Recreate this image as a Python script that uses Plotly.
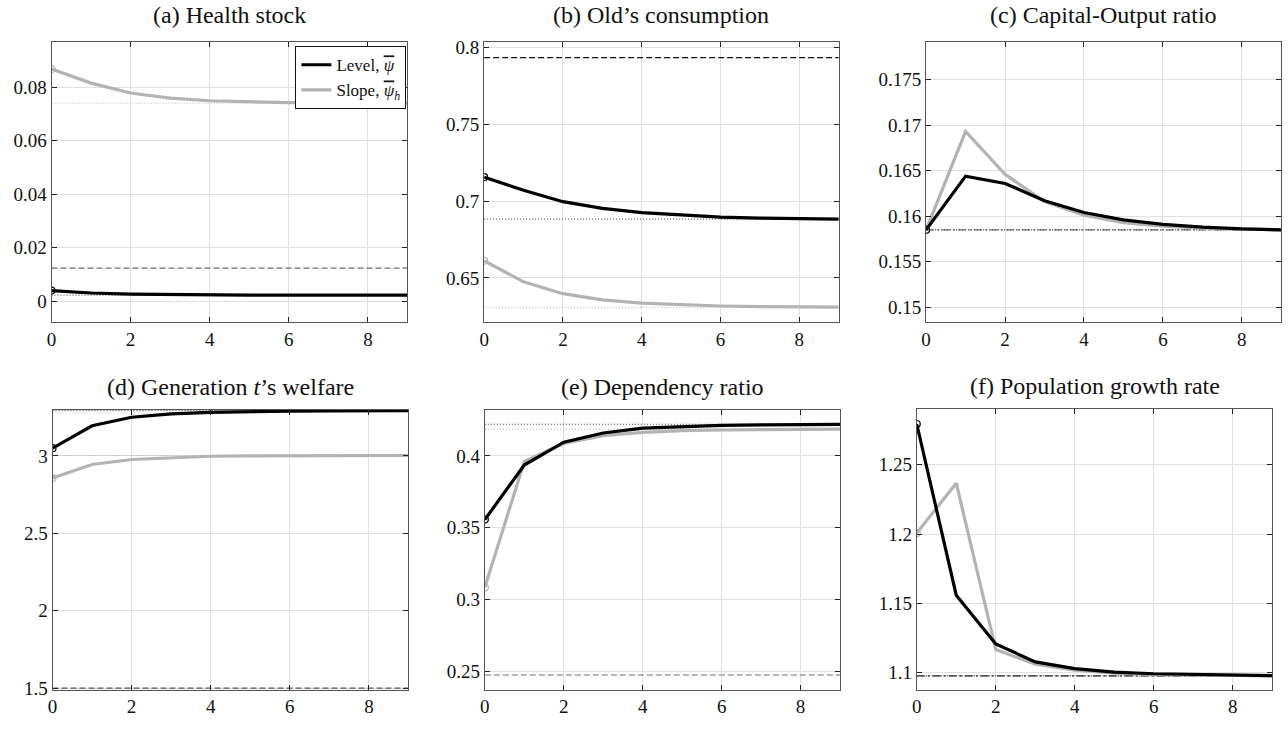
import plotly.graph_objects as go

periods = [0, 1, 2, 3, 4, 5, 6, 7, 8, 9]

# (a) Health stock
a_level = [0.0039, 0.0030, 0.0026, 0.0024, 0.0023, 0.0022, 0.0022, 0.0022, 0.0022, 0.0022]
a_slope = [0.0869, 0.0816, 0.0779, 0.0760, 0.0750, 0.0746, 0.0743, 0.0742, 0.0742, 0.0742]
a_init, a_ss_level, a_ss_slope = 0.0123, 0.0022, 0.0741

# (b) Old's consumption
b_level = [0.7155, 0.7070, 0.6996, 0.6953, 0.6925, 0.6908, 0.6896, 0.6889, 0.6885, 0.6883]
b_slope = [0.6612, 0.6475, 0.6398, 0.6358, 0.6337, 0.6325, 0.6318, 0.6314, 0.6312, 0.6311]
b_init, b_ss_level, b_ss_slope = 0.7932, 0.6883, 0.6310

# (c) Capital-Output ratio
c_level = [0.1585, 0.1644, 0.1636, 0.1617, 0.1604, 0.1596, 0.1591, 0.1588, 0.1586, 0.1585]
c_slope = [0.1585, 0.1693, 0.1646, 0.1616, 0.1601, 0.1593, 0.1589, 0.1587, 0.1586, 0.1585]
c_init, c_ss_level, c_ss_slope = 0.1585, 0.1585, 0.1585

# (d) Generation t's welfare
d_level = [3.050, 3.195, 3.250, 3.272, 3.282, 3.287, 3.290, 3.291, 3.292, 3.292]
d_slope = [2.857, 2.945, 2.977, 2.990, 2.998, 3.001, 3.002, 3.003, 3.003, 3.003]
d_init, d_ss_level, d_ss_slope = 1.500, 3.293, 3.003

# (e) Dependency ratio
e_level = [0.3557, 0.3936, 0.4095, 0.4159, 0.4193, 0.4205, 0.4212, 0.4216, 0.4218, 0.4219]
e_slope = [0.3086, 0.3961, 0.4086, 0.4141, 0.4164, 0.4175, 0.4180, 0.4183, 0.4185, 0.4186]
e_init, e_ss_level, e_ss_slope = 0.2477, 0.4220, 0.4186

# (f) Population growth rate
f_level = [1.2793, 1.1559, 1.1207, 1.1078, 1.1030, 1.1005, 1.0993, 1.0987, 1.0983, 1.0980]
f_slope = [1.2007, 1.2366, 1.1167, 1.1061, 1.1019, 1.0998, 1.0988, 1.0983, 1.0980, 1.0978]
f_init, f_ss_level, f_ss_slope = 1.0977, 1.0977, 1.0977

titles = ["(a) Health stock", "(b) Old\u2019s consumption", "(c) Capital-Output ratio",
          "(d) Generation <i>t</i>\u2019s welfare", "(e) Dependency ratio", "(f) Population growth rate"]
legend_names = ["Level, <i><span style=\"text-decoration:overline\">\u03c8</span></i>",
                "Slope, <i><span style=\"text-decoration:overline\">\u03c8</span><sub>h</sub></i>"]

y_ticks = [
    [0, 0.02, 0.04, 0.06, 0.08],
    [0.65, 0.7, 0.75, 0.8],
    [0.15, 0.155, 0.16, 0.165, 0.17, 0.175],
    [1.5, 2, 2.5, 3],
    [0.25, 0.3, 0.35, 0.4],
    [1.1, 1.15, 1.2, 1.25],
]
y_ticktext = [
    ["0", "0.02", "0.04", "0.06", "0.08"],
    ["0.65", "0.7", "0.75", "0.8"],
    ["0.15", "0.155", "0.16", "0.165", "0.17", "0.175"],
    ["1.5", "2", "2.5", "3"],
    ["0.25", "0.3", "0.35", "0.4"],
    ["1.1", "1.15", "1.2", "1.25"],
]
y_ranges = [[-0.0078, 0.0969], [0.6215, 0.8032], [0.1484, 0.1791],
            [1.49, 3.296], [0.2375, 0.4318], [1.0878, 1.29]]
x_ticks = [0, 2, 4, 6, 8]

W, H = 1288, 734
# panel boxes in pixels: (left, right, top, bottom)
boxes = [(46.7, 404, 38, 323), (481, 837, 38, 323), (924.7, 1281.3, 38, 323),
         (47.7, 405, 413, 698), (481.7, 838.3, 413, 698), (915.3, 1272.3, 412, 698)]

panels = [
    (a_level, a_slope, a_init, a_ss_level, a_ss_slope, "dash", "#6e6e6e"),
    (b_level, b_slope, b_init, b_ss_level, b_ss_slope, "dash", "#111111"),
    (c_level, c_slope, c_init, c_ss_level, c_ss_slope, "dashdot", "#6e6e6e"),
    (d_level, d_slope, d_init, d_ss_level, d_ss_slope, "dash", "#555555"),
    (e_level, e_slope, e_init, e_ss_level, e_ss_slope, "dash", "#6e6e6e"),
    (f_level, f_slope, f_init, f_ss_level, f_ss_slope, "dashdot", "#111111"),
]

BLACK = "#000000"
GRAY = "#b3b3b3"
FONT = "Liberation Serif"
TXT = "#111111"

fig = go.Figure()
layout = dict(
    width=W, height=H,
    margin=dict(l=0, r=0, t=0, b=0),
    paper_bgcolor="white", plot_bgcolor="white",
    font=dict(family=FONT, size=19, color=TXT),
    showlegend=True,
    legend=dict(x=403 / W, y=1 - 42 / H, xanchor="right", yanchor="top",
                bordercolor=TXT, borderwidth=1, bgcolor="white",
                font=dict(family=FONT, size=17, color=TXT),
                tracegroupgap=0, itemwidth=30),
)
annotations = []
x_end = [periods[0], periods[-1]]

for i, (lvl, slp, init, ssl, sss, initdash, initcolor) in enumerate(panels):
    k = "" if i == 0 else str(i + 1)
    xa, ya = "x" + k, "y" + k
    l, r, t, b = boxes[i]
    common = dict(
        ticks="inside", ticklen=5, tickcolor="#222222",
        showline=True, linecolor="#555555", linewidth=1, mirror="ticks",
        showgrid=True, gridcolor="#e0e0e0", gridwidth=1, zeroline=False,
        tickfont=dict(family=FONT, size=19, color=TXT),
    )
    layout["xaxis" + k] = dict(domain=[l / W, r / W], anchor=ya, range=[0, 9],
                               tickvals=x_ticks, **common)
    layout["yaxis" + k] = dict(domain=[1 - b / H, 1 - t / H], anchor=xa, range=y_ranges[i],
                               tickvals=y_ticks[i], ticktext=y_ticktext[i], **common)
    # initial steady state
    fig.add_trace(go.Scatter(x=x_end, y=[init, init], mode="lines", xaxis=xa, yaxis=ya,
                             line=dict(color=initcolor, width=1.2,
                                       dash="6px,3px" if initdash == "dash" else "8px,3px,2px,3px"),
                             showlegend=False, hoverinfo="skip"))
    # final steady states (dotted)
    fig.add_trace(go.Scatter(x=x_end, y=[sss, sss], mode="lines", xaxis=xa, yaxis=ya,
                             line=dict(color=GRAY, width=1, dash="1px,2px"),
                             showlegend=False, hoverinfo="skip"))
    fig.add_trace(go.Scatter(x=x_end, y=[ssl, ssl], mode="lines", xaxis=xa, yaxis=ya,
                             line=dict(color="#333333", width=1, dash="1px,2px"),
                             showlegend=False, hoverinfo="skip"))
    # paths
    fig.add_trace(go.Scatter(x=periods, y=slp, mode="lines", xaxis=xa, yaxis=ya,
                             line=dict(color=GRAY, width=3.2),
                             name=legend_names[1], showlegend=(i == 0), legendrank=2))
    fig.add_trace(go.Scatter(x=periods, y=lvl, mode="lines", xaxis=xa, yaxis=ya,
                             line=dict(color=BLACK, width=3.2),
                             name=legend_names[0], showlegend=(i == 0), legendrank=1))
    # initial markers
    fig.add_trace(go.Scatter(x=periods[:1], y=slp[:1], mode="markers", xaxis=xa, yaxis=ya,
                             marker=dict(symbol="circle-open", size=7, color=GRAY, line=dict(width=1.2)),
                             showlegend=False, hoverinfo="skip"))
    fig.add_trace(go.Scatter(x=periods[:1], y=lvl[:1], mode="markers", xaxis=xa, yaxis=ya,
                             marker=dict(symbol="circle-open", size=7, color=BLACK, line=dict(width=1.2)),
                             showlegend=False, hoverinfo="skip"))
    annotations.append(dict(
        text=titles[i], x=(l + r) / 2 / W, y=1 - (t - 24) / H,
        xref="paper", yref="paper", xanchor="center", yanchor="middle", yshift=4 if i < 3 else 0,
        showarrow=False, font=dict(family=FONT, size=24, color=TXT),
    ))

layout["annotations"] = annotations
fig.update_layout(**layout)
fig.write_html("out.html")
